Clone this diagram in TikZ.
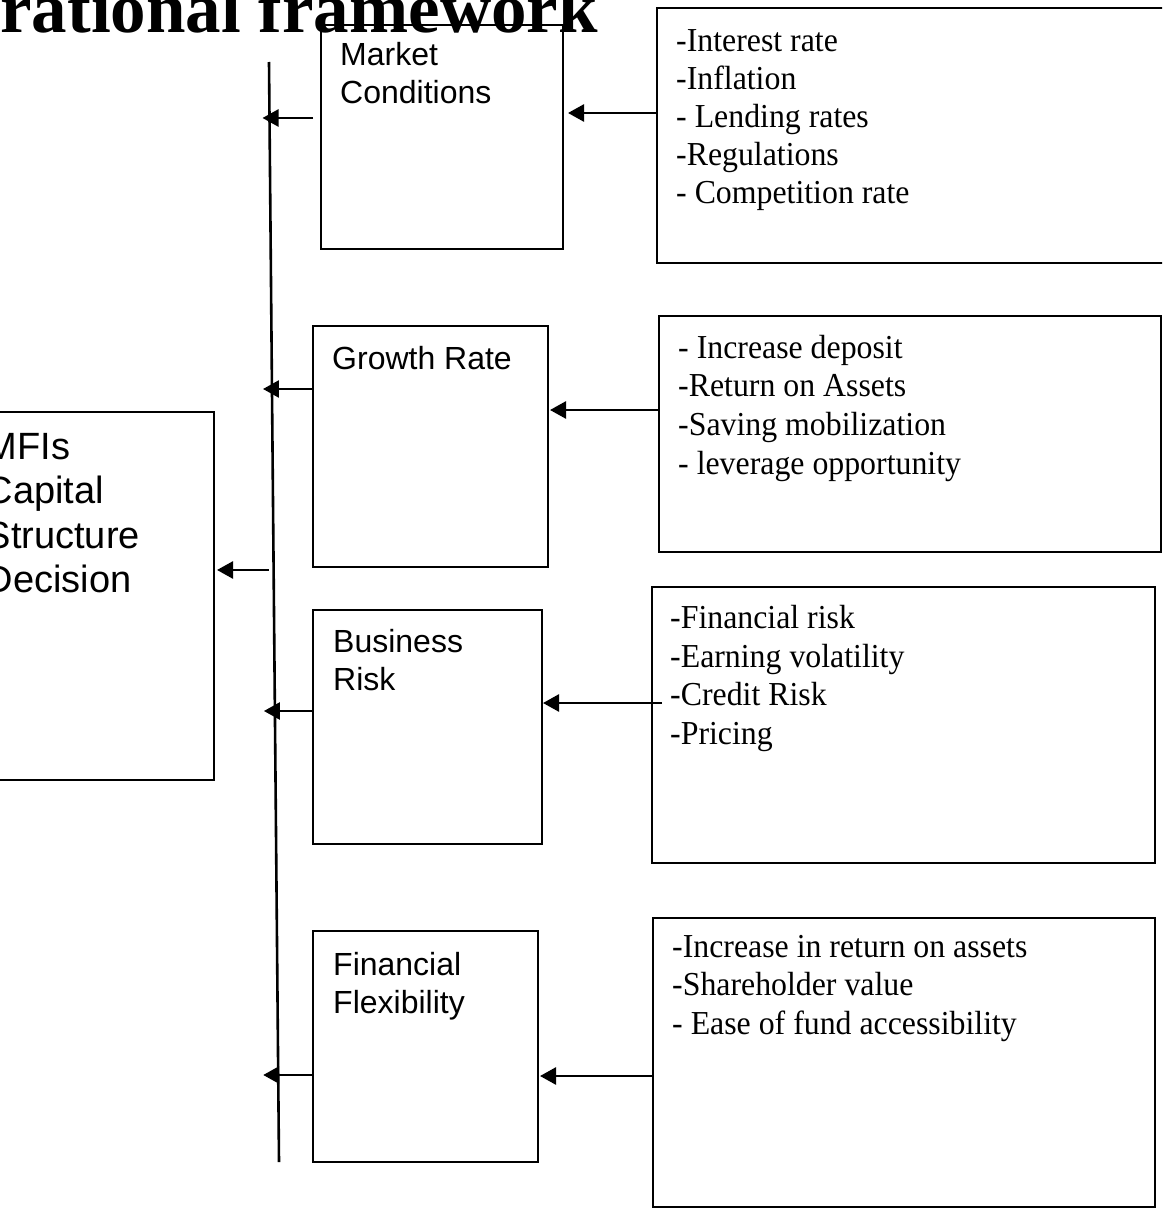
\documentclass[tikz,border=0pt]{standalone}
\usepackage{fontspec}
\setmainfont{Liberation Serif}[FakeStretch=0.95]
\newfontfamily\sansf{Liberation Sans}
\newfontfamily\titlef{Liberation Serif}
\usetikzlibrary{arrows.meta,calc}
\begin{document}
\begin{tikzpicture}[x=1pt,y=-1pt,
  box/.style={draw, line width=2.6pt, rectangle, inner sep=0pt, outer sep=0pt, anchor=north west},
  stxt/.style={font=\fontsize{33.5}{38}\selectfont, inner sep=0pt, anchor=base west},
  atxt/.style={font=\sansf\fontsize{32}{38}\selectfont, inner sep=0pt, anchor=base west},
  btxt/.style={font=\sansf\fontsize{38}{45}\selectfont, inner sep=0pt, anchor=base west},
  arr/.style={line width=2.6pt, -{Triangle[length=16pt,width=17pt]}}]
\useasboundingbox (0,0) rectangle (1162,1209);
\clip (0,0) rectangle (1162,1209);
% title (cut at top)
\node[font=\titlef\bfseries\fontsize{71}{71}\selectfont, inner sep=0pt, anchor=base east] (title) at (598,33) {rational framework};
% left box
\node[box, minimum width=254pt, minimum height=368pt] (L) at (-40,412) {};
\node[btxt] (L1) at (-14.5,459) {MFIs};
\node[btxt] (L2) at (-14.5,503) {Capital};
\node[btxt] (L3) at (-14.5,548) {Structure};
\node[btxt] (L4) at (-14.5,592) {Decision};
% middle boxes
\node[box, minimum width=242pt, minimum height=224pt] (M1) at (321,25) {};
\node[atxt] (M1a) at (340,66) {Market};
\node[atxt] (M1b) at (340,104) {Conditions};
\node[box, minimum width=235pt, minimum height=241pt] (M2) at (313,326) {};
\node[atxt] (M2a) at (332,369) {Growth Rate};
\node[box, minimum width=229pt, minimum height=234pt] (M3) at (313,610) {};
\node[atxt] (M3a) at (333,652) {Business};
\node[atxt] (M3b) at (333,690) {Risk};
\node[box, minimum width=225pt, minimum height=231pt] (M4) at (313,931) {};
\node[atxt] (M4a) at (333,975) {Financial};
\node[atxt] (M4b) at (333,1013) {Flexibility};
% right boxes
\node[box, minimum width=520pt, minimum height=255pt] (R1) at (657,8) {};
\node[stxt] (R1a) at (676,52) {-Interest rate};
\node[stxt] (R1b) at (676,90) {-Inflation};
\node[stxt] (R1c) at (676,128) {- Lending rates};
\node[stxt] (R1d) at (676,166) {-Regulations};
\node[stxt] (R1e) at (676,204) {- Competition rate};
\node[box, minimum width=502pt, minimum height=236pt] (R2) at (659,316) {};
\node[stxt] (R2a) at (678,358) {- Increase deposit};
\node[stxt] (R2b) at (678,396) {-Return on Assets};
\node[stxt] (R2c) at (678,435) {-Saving mobilization};
\node[stxt] (R2d) at (678,474) {- leverage opportunity};
\node[box, minimum width=503pt, minimum height=276pt] (R3) at (652,587) {};
\node[stxt] (R3a) at (670,628) {-Financial risk};
\node[stxt] (R3b) at (670,667) {-Earning volatility};
\node[stxt] (R3c) at (670,705) {-Credit Risk};
\node[stxt] (R3d) at (670,744) {-Pricing};
\node[box, minimum width=502pt, minimum height=289pt] (R4) at (653,918) {};
\node[stxt] (R4a) at (672,957) {-Increase in return on assets};
\node[stxt] (R4b) at (672,995) {-Shareholder value};
\node[stxt] (R4c) at (672,1034) {- Ease of fund accessibility};
% vertical line
\coordinate (vt) at (269,62);
\coordinate (vb) at (279,1162);
\draw[line width=2.6pt] (vt) -- (vb);
\coordinate (h1) at ($(vt)!{(118-62)/1100}!(vb)$);
\coordinate (h2) at ($(vt)!{(389-62)/1100}!(vb)$);
\coordinate (h3) at ($(vt)!{(711-62)/1100}!(vb)$);
\coordinate (h4) at ($(vt)!{(1075-62)/1100}!(vb)$);
\coordinate (h5) at ($(vt)!{(570-62)/1100}!(vb)$);
% arrows middle -> line
\draw[arr] ([xshift=-8pt]M1.west |- h1) -- ([xshift=-7pt]h1);
\draw[arr] (M2.west |- h2) -- ([xshift=-9pt]h2);
\draw[arr] (M3.west |- h3) -- ([xshift=-11pt]h3);
\draw[arr] (M4.west |- h4) -- ([xshift=-15pt]h4);
% line -> left box
\draw[arr] ([xshift=-5pt]h5) -- ([xshift=3pt]L.east |- h5);
% right -> middle
\draw[arr] (R1.west |- 0,113) -- ([xshift=5pt]M1.east |- 0,113);
\draw[arr] (R2.west |- 0,410) -- ([xshift=2pt]M2.east |- 0,410);
\draw[arr] ([xshift=10pt]R3.west |- 0,703) -- ([xshift=1pt]M3.east |- 0,703);
\draw[arr] (R4.west |- 0,1076) -- ([xshift=2pt]M4.east |- 0,1076);
\end{tikzpicture}
\end{document}
